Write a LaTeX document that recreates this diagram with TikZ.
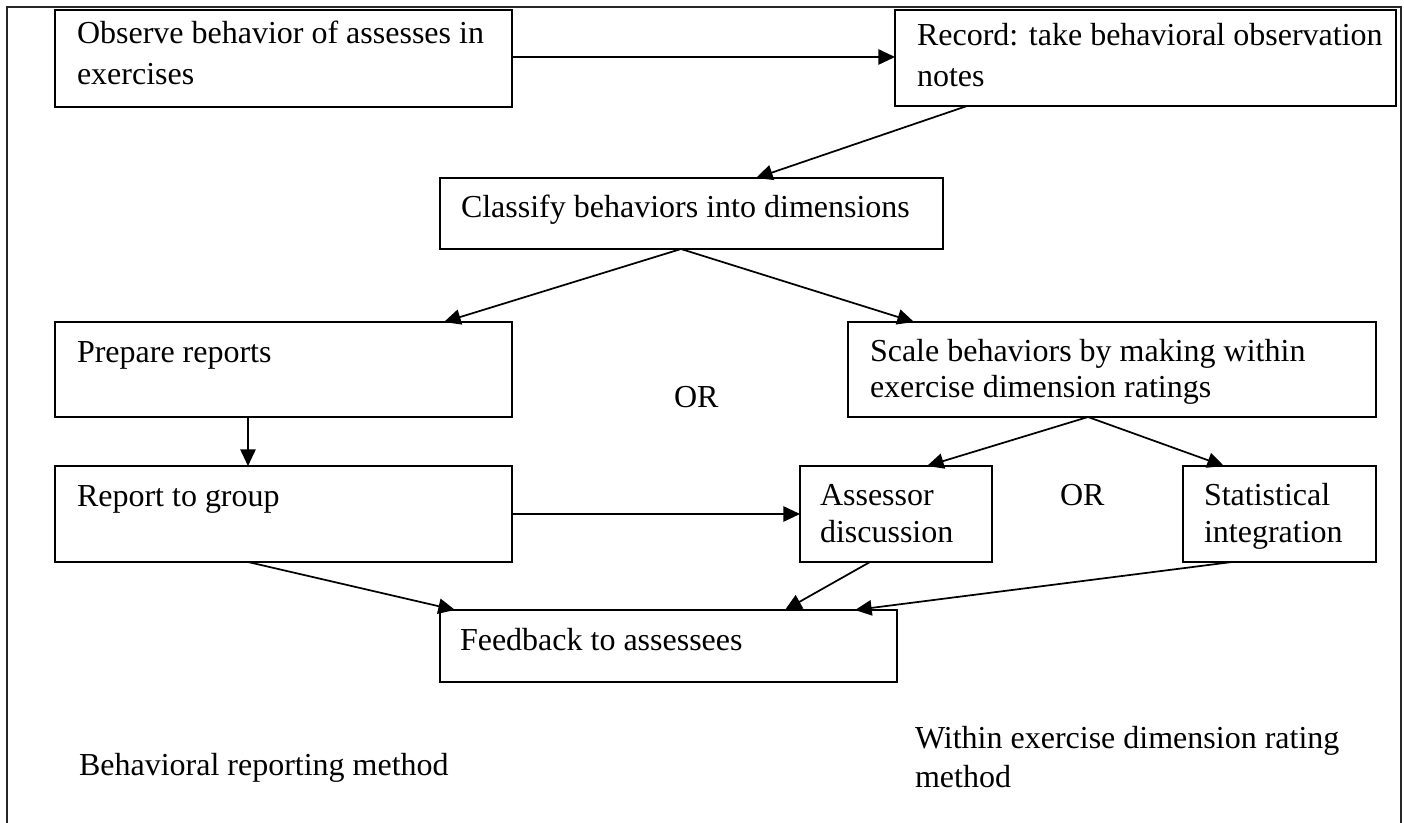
\documentclass[tikz,border=0pt]{standalone}
\usepackage{fontspec}
\setmainfont{Liberation Serif}
\usetikzlibrary{arrows.meta,fit}
\begin{document}
\begin{tikzpicture}[x=0.75pt,y=-0.75pt,
  box/.style={draw=black, line width=1.7pt, inner sep=0pt, outer sep=0pt},
  lbl/.style={inner sep=0pt, outer sep=0pt, anchor=base west, align=left,
              font=\fontsize{24}{27.6}\selectfont},
  widelbl/.style={lbl, font=\fontsize{24}{30.8}\selectfont},
  link/.style={draw=black, line width=1.3pt,
               -{Triangle[length=12.5pt,width=11.5pt]}},
]
\useasboundingbox (0,0) rectangle (1404,823);

% outer frame, open at the bottom
\draw[line width=1.3pt, black!85] (7,823) -- (7,7) -- (1401,7) -- (1401,823);

% process boxes
\node[box, fit={(55,10) (512,107)}]    (obs)  {};
\node[box, fit={(895,10) (1396,106)}]  (rec)  {};
\node[box, fit={(440,178) (943,249)}]  (cls)  {};
\node[box, fit={(55,322) (512,417)}]   (prep) {};
\node[box, fit={(848,322) (1376,417)}] (scl)  {};
\node[box, fit={(55,466) (512,562)}]   (rep)  {};
\node[box, fit={(800,466) (992,562)}]  (asr)  {};
\node[box, fit={(1183,466) (1376,562)}] (stat) {};
\node[box, fit={(440,610) (897,682)}]  (fb)   {};

% box texts (base anchor = baseline of the last line)
\node[widelbl] (obs-t)  at (77,85)   {Observe behavior of assesses in\\exercises};
\node[widelbl] (rec-t)  at (917,87)  {Record: take behavioral observation\\notes};
\node[lbl]     (cls-t)  at (461,218) {Classify behaviors into dimensions};
\node[lbl]     (prep-t) at (77,363)  {Prepare reports};
\node[lbl, font=\fontsize{24}{27}\selectfont]
               (scl-t)  at (870,398) {Scale behaviors by making within\\exercise dimension ratings};
\node[lbl]     (rep-t)  at (77,507)  {Report to group};
\node[lbl]     (asr-t)  at (820,542) {Assessor\\discussion};
\node[lbl]     (stat-t) at (1204,542) {Statistical\\integration};
\node[lbl]     (fb-t)   at (460,650) {Feedback to assessees};

% alternatives
\node[lbl] (or1) at (674,408)  {OR};
\node[lbl] (or2) at (1060,506) {OR};

% method captions
\node[lbl] (cap1) at (79,775) {Behavioral reporting method};
\node[lbl, font=\fontsize{24}{29}\selectfont]
           (cap2) at (915,787) {Within exercise dimension rating\\method};

% connectors
\draw[link] (obs.east |- 0,57) -- (rec.west |- 0,57);
\draw[link] (rec.south -| 967,0) -- (cls.north -| 756,0);
\draw[link] (cls.south -| 681,0) -- (prep.north -| 444,0);
\draw[link] (cls.south -| 681,0) -- (scl.north -| 914,0);
\draw[link] (prep.south -| 248,0) -- (rep.north -| 248,0);
\draw[link] (rep.east |- 0,514) -- (asr.west |- 0,514);
\draw[link] (scl.south -| 1088,0) -- (asr.north -| 927,0);
\draw[link] (scl.south -| 1088,0) -- (stat.north -| 1224,0);
\draw[link] (rep.south -| 248,0) -- (fb.north -| 455,0);
\draw[link] (asr.south -| 870,0) -- (fb.north -| 785,0);
\draw[link] (stat.south -| 1232,0) -- (fb.north -| 855,0);
\end{tikzpicture}
\end{document}
